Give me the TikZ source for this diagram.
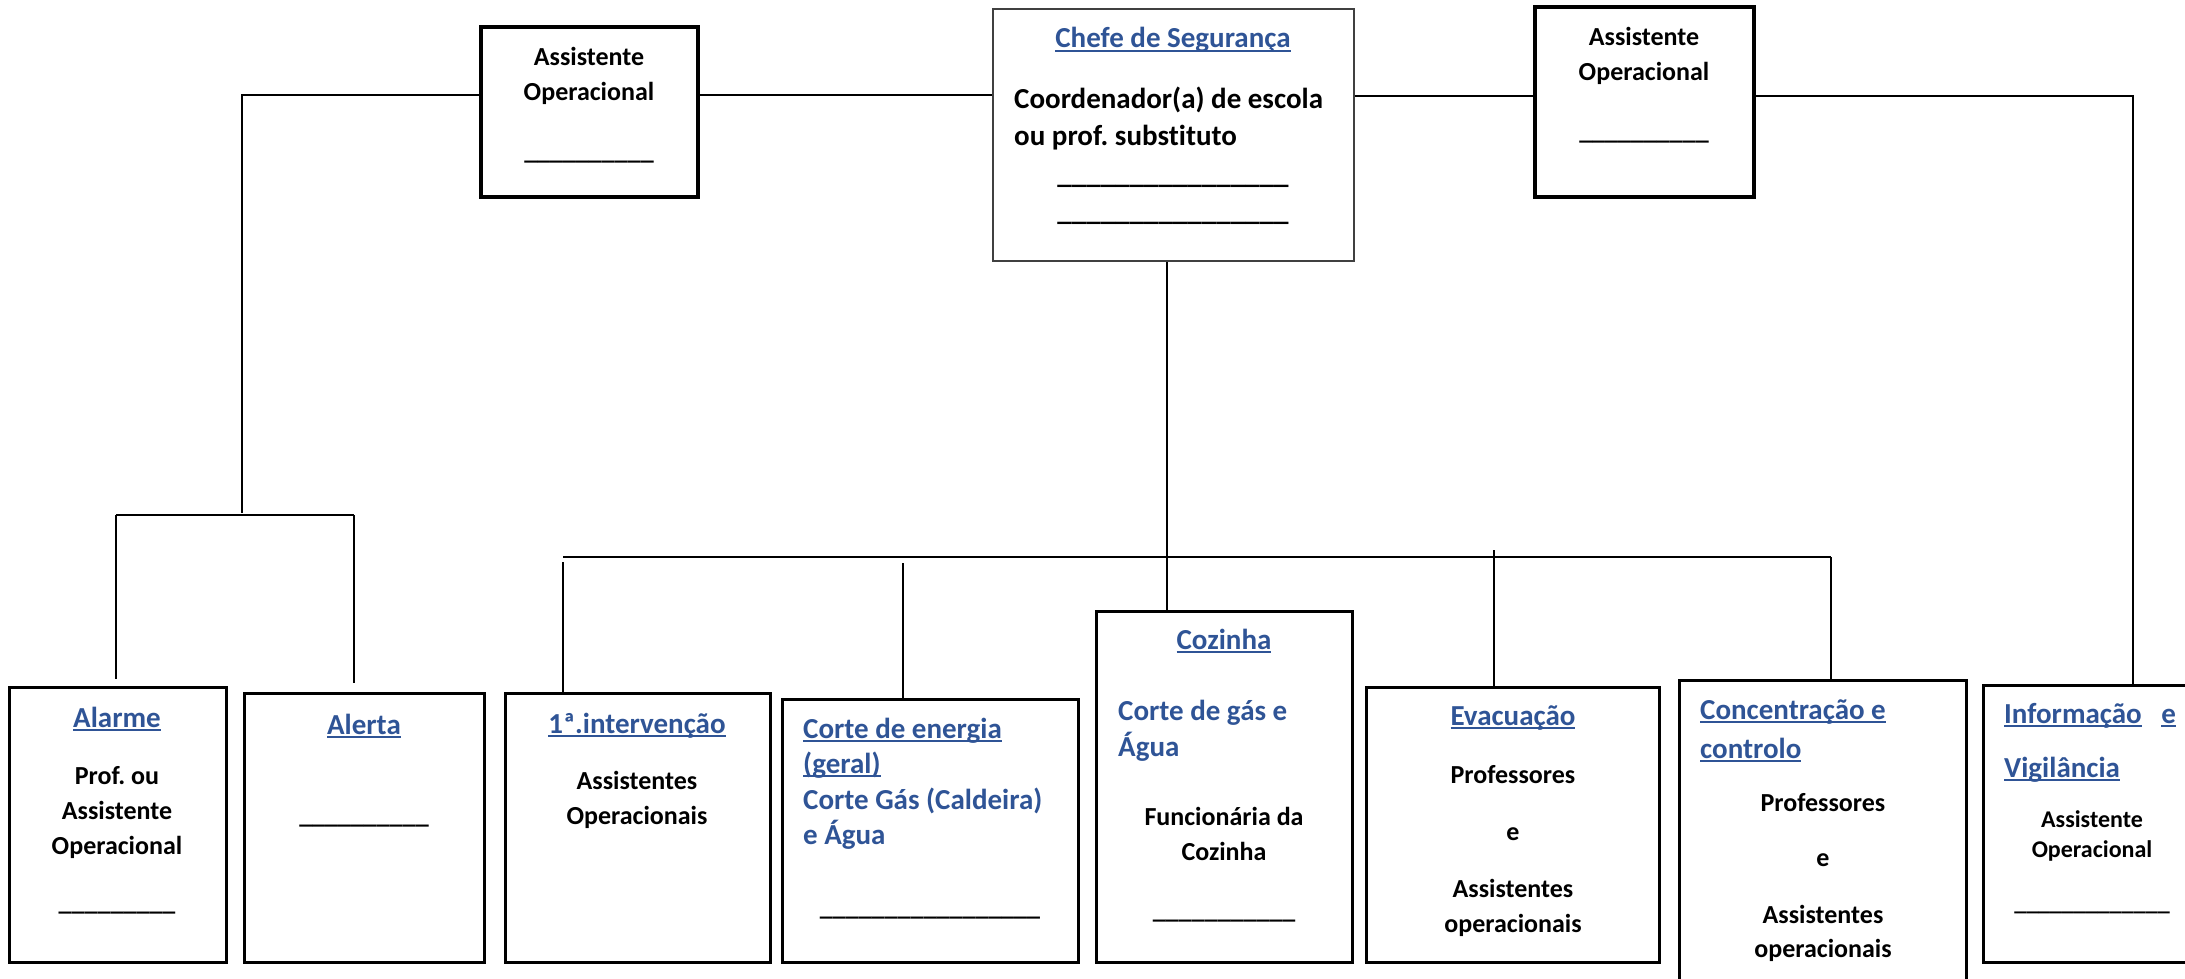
\documentclass[tikz,border=0pt]{standalone}
\usepackage{fontspec}
\setmainfont{Carlito}[Ligatures=NoCommon]
\frenchspacing
\definecolor{azul}{RGB}{47,84,150}
\newcommand\sublinha[1]{\setbox0=\hbox{#1}\rlap{\rule[-4pt]{\wd0}{2.3pt}}\box0}

\begin{document}
\begin{tikzpicture}[x=1pt,y=-1pt,
  caixa/.style={draw,line width=3pt,inner sep=0pt},
  caixagrossa/.style={caixa,line width=4.5pt},
  caixafina/.style={draw=black!75,line width=2pt,inner sep=0pt},
  ligacao/.style={line width=1.7pt},
  barra/.style={line width=2.5pt},
  titulo/.style={inner sep=0pt,text=azul,font=\fontsize{29}{35}\selectfont\bfseries},
  forte/.style={inner sep=0pt,font=\fontsize{29}{35}\selectfont\bfseries},
  corpo/.style={inner sep=0pt,font=\fontsize{26}{35}\selectfont\bfseries},
  pequeno/.style={inner sep=0pt,font=\fontsize{24}{30}\selectfont\bfseries}]
\newcommand\caixa[6]{
\node[#6,minimum width={(#4-#2)*1pt},minimum height={(#5-#3)*1pt}] (#1) at ({(#2+#4)/2},{(#3+#5)/2}) {};
}
\newcommand\linhas[5]{
\foreach \y/\t [count=\i] in {#5} \node[#4,anchor=#3] (#1\i) at (#2,\y) {\t};
}
\useasboundingbox (0,0) rectangle (2185,979);
% caixas de cima
\caixa{aoE}{481}{27}{698}{197}{caixagrossa}
\caixa{chefe}{993}{9}{1354}{261}{caixafina}
\caixa{aoD}{1535}{7}{1754}{197}{caixagrossa}
% caixas de baixo
\caixa{alarme}{9}{687}{226}{962}{caixa}
\caixa{alerta}{244}{693}{484}{962}{caixa}
\caixa{interv}{505}{693}{770}{962}{caixa}
\caixa{energia}{782}{699}{1078}{962}{caixa}
\caixa{cozinha}{1096}{611}{1352}{962}{caixa}
\caixa{evac}{1366}{687}{1659}{962}{caixa}
\caixa{concent}{1679}{680}{1966}{1000}{caixa}
\caixa{info}{1983}{685}{2220}{962}{caixa}
% pontos das ligacoes
\coordinate (cantoE) at (242,95);
\coordinate (ramoE) at (242,513);
\coordinate (ramoA) at (116,515);
\coordinate (ramoB) at (354,515);
\coordinate (cantoD) at (2133,96);
\coordinate (desce) at (1167,557);
\coordinate (barraE) at (563,557);
\coordinate (barraEn) at (903,557);
\coordinate (barraEv) at (1494,557);
\coordinate (barraD) at (1831,557);
% ligacoes
\draw[ligacao] (aoE.west |- cantoE) -- (cantoE) -- (ramoE);
\draw[ligacao] (ramoA) -- (ramoB);
\draw[ligacao,shorten >=7pt] (ramoA) -- (ramoA |- alarme.north);
\draw[ligacao,shorten >=9pt] (ramoB) -- (ramoB |- alerta.north);
\draw[ligacao] (aoE.east |- cantoE) -- (chefe.west |- cantoE);
\draw[ligacao] (chefe.east |- cantoD) -- (aoD.west |- cantoD);
\draw[ligacao] (aoD.east |- cantoD) -- (cantoD) -- (cantoD |- info.north);
\draw[ligacao] (desce |- chefe.south) -- (desce |- cozinha.north);
\draw[barra] (barraE) -- (barraD);
\draw[ligacao,shorten <=5pt] (barraE) -- (barraE |- interv.north);
\draw[ligacao,shorten <=6pt] (barraEn) -- (barraEn |- energia.north);
\draw[ligacao,shorten <=-7pt] (barraEv) -- (barraEv |- evac.north);
\draw[ligacao] (barraD) -- (barraD |- concent.north);
% textos de cima
\linhas{aoEt}{589}{base}{corpo}{66/Assistente, 101/Operacional, 160/\_\_\_\_\_\_\_\_\_\_}
\node[titulo,anchor=base] (chefeT) at (1173,48) {\sublinha{Chefe de Segurança}};
\linhas{chefet}{1014}{base west}{forte}{109/Coordenador(a) de escola, 146/ou prof. substituto}
\linhas{chefel}{1173}{base}{forte}{183/\_\_\_\_\_\_\_\_\_\_\_\_\_\_\_\_, 220/\_\_\_\_\_\_\_\_\_\_\_\_\_\_\_\_}
\linhas{aoDt}{1644}{base}{corpo}{46/Assistente, 81/Operacional, 140/\_\_\_\_\_\_\_\_\_\_}
% textos de baixo
\node[titulo,anchor=base] (alarmeT) at (117,727) {\sublinha{Alarme}};
\linhas{alarmet}{117}{base}{corpo}{784/Prof. ou, 819/Assistente, 854/Operacional, 910/\_\_\_\_\_\_\_\_\_}
\node[titulo,anchor=base] (alertaT) at (364,734) {\sublinha{Alerta}};
\linhas{alertat}{364}{base}{corpo}{823/\_\_\_\_\_\_\_\_\_\_}
\node[titulo,anchor=base] (intervT) at (637,733) {\sublinha{1ª.intervenção}};
\linhas{intervt}{637}{base}{corpo}{789/Assistentes, 824/Operacionais}
\linhas{energiaT}{803}{base west}{titulo}{738/\sublinha{Corte de energia}, 773/\sublinha{(geral)}, 809/Corte Gás (Caldeira), 844/e Água}
\linhas{energiat}{930}{base}{corpo}{915/\_\_\_\_\_\_\_\_\_\_\_\_\_\_\_\_\_}
\node[titulo,anchor=base] (cozinhaT) at (1224,649) {\sublinha{Cozinha}};
\linhas{cozinhaS}{1118}{base west}{titulo}{720/Corte de gás e, 756/Água}
\linhas{cozinhat}{1224}{base}{corpo}{825/Funcionária da, 860/Cozinha, 918/\_\_\_\_\_\_\_\_\_\_\_}
\node[titulo,anchor=base] (evacT) at (1513,725) {\sublinha{Evacuação}};
\linhas{evact}{1513}{base}{corpo}{783/Professores, 840/e, 897/Assistentes, 932/operacionais}
\linhas{concentT}{1700}{base west}{titulo}{719/\sublinha{Concentração e}, 758/\sublinha{controlo}}
\linhas{concentt}{1823}{base}{corpo}{811/Professores, 866/e, 923/Assistentes, 957/operacionais}
\linhas{infoT}{2004}{base west}{titulo}{723/\sublinha{Informação}\ \ \ \sublinha{e}, 777/\sublinha{Vigilância}}
\linhas{infot}{2092}{base}{pequeno}{827/Assistente, 857/Operacional, 910/\_\_\_\_\_\_\_\_\_\_\_\_\_}
\end{tikzpicture}
\end{document}
